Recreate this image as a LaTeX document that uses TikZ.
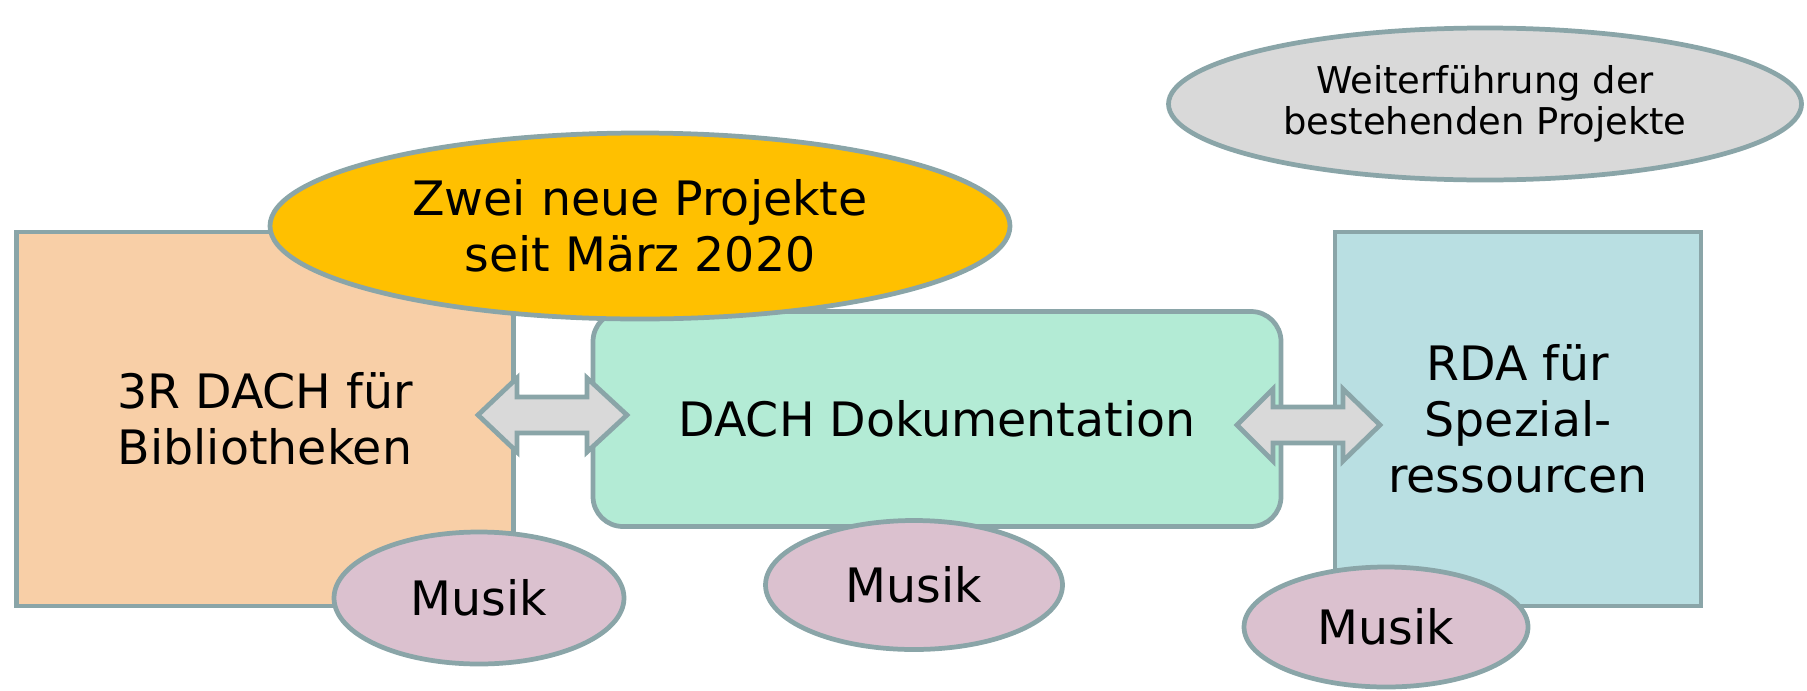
\documentclass[tikz,border=0pt]{standalone}
\usepackage{fontspec}
\setmainfont{DejaVu Sans}
\usetikzlibrary{shapes.geometric}

\definecolor{rand}{HTML}{8AA5A8}
\definecolor{orangefill}{HTML}{F8CFA7}
\definecolor{gruenfill}{HTML}{B3EBD5}
\definecolor{blaufill}{HTML}{B9DFE2}
\definecolor{gelbfill}{HTML}{FFC000}
\definecolor{graufill}{HTML}{D9D9D9}
\definecolor{musikfill}{HTML}{DBC1CF}

\newcommand{\pix}{0.02cm}
\newcommand{\bigtext}{\fontsize{27}{32}\selectfont}
\newcommand{\smalltext}{\fontsize{21}{23}\selectfont}

\tikzset{
  block/.style={draw=rand, line width=2.7pt, inner sep=0pt, align=center, font=\bigtext},
  blob/.style={block, ellipse},
  pfeil/.style={draw=rand, line width=2.7pt, fill=graufill, line join=miter}
}

\begin{document}
\begin{tikzpicture}[x=\pix, y=-\pix]
  \useasboundingbox (0,0) rectangle (1807,690);

  % Projekte
  \node [block, rectangle, fill=orangefill, minimum width={497*\pix}, minimum height={374*\pix}]
    (bib) at (265,419) {3R DACH für\\Bibliotheken};
  \node [block, rectangle, fill=blaufill, minimum width={366*\pix}, minimum height={374*\pix}]
    (spez) at (1518,419) {RDA für\\Spezial-\\ressourcen};
  \node [block, rectangle, rounded corners={30*\pix}, fill=gruenfill, minimum width={688*\pix}, minimum height={215*\pix}]
    (doku) at (937,419) {DACH Dokumentation};

  % Doppelpfeile
  \coordinate (L1) at (478,415);
  \coordinate (L2) at (627,415);
  \draw [pfeil] (L1) -- (517,378) -- (517,397) -- (587,397) -- (587,378) -- (L2)
    -- (587,452) -- (587,433) -- (517,433) -- (517,452) -- cycle;

  \coordinate (R1) at (1237,425);
  \coordinate (R2) at (1380,425);
  \draw [pfeil] (R1) -- (1273,389) -- (1273,407) -- (1343,407) -- (1343,389) -- (R2)
    -- (1343,461) -- (1343,443) -- (1273,443) -- (1273,461) -- cycle;

  % Ellipsen
  \node [blob, fill=gelbfill, minimum width={740*\pix}, minimum height={186*\pix}]
    (neu) at (640,226) {Zwei neue Projekte\\seit März 2020};
  \node [blob, fill=graufill, font=\smalltext, minimum width={633*\pix}, minimum height={152*\pix}]
    (weiter) at (1485,104) {Weiterführung der\\bestehenden Projekte};

  \node [blob, fill=musikfill, minimum width={290*\pix}, minimum height={132*\pix}]
    (musik1) at (479,598) {Musik};
  \node [blob, fill=musikfill, minimum width={297*\pix}, minimum height={129*\pix}]
    (musik2) at (914,585) {Musik};
  \node [blob, fill=musikfill, minimum width={284*\pix}, minimum height={120*\pix}]
    (musik3) at (1386,627) {Musik};

\end{tikzpicture}
\end{document}
